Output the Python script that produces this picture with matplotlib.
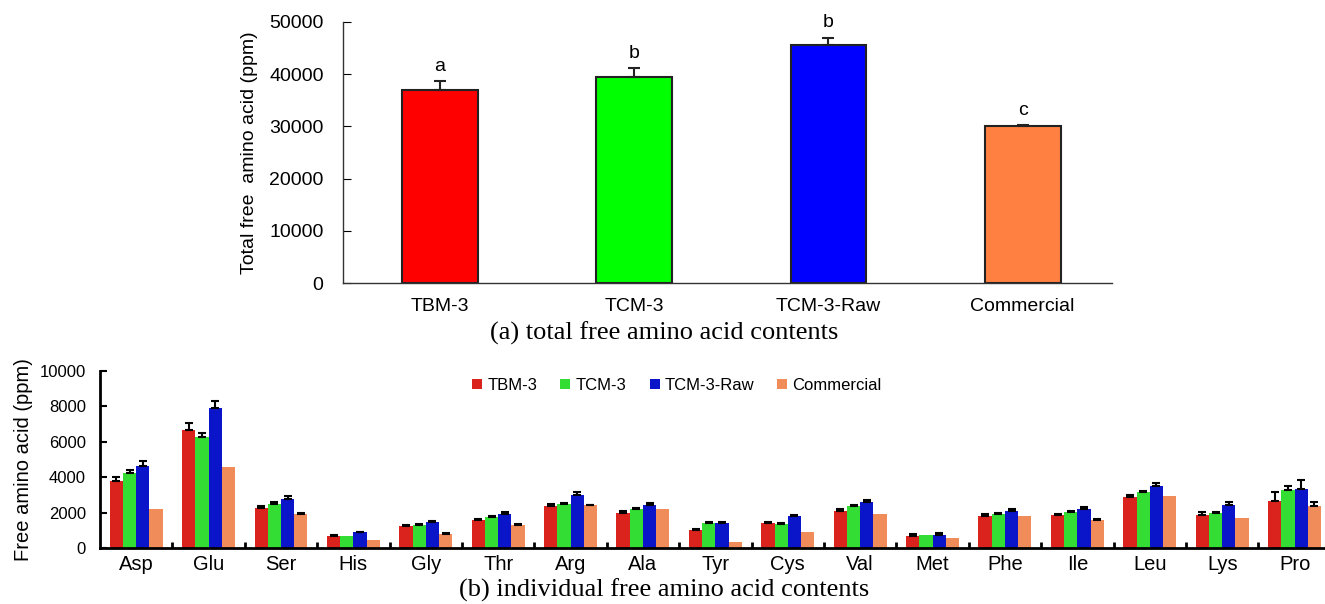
import numpy as np
import matplotlib
matplotlib.use("Agg")
import matplotlib.pyplot as plt

# ---- data: (a) total free amino acids ----
samples = ["TBM-3", "TCM-3", "TCM-3-Raw", "Commercial"]
total_mean = [37000, 39500, 45500, 30000]
total_err = [1700, 1600, 1500, 300]
total_letters = ["a", "b", "b", "c"]

# ---- data: (b) individual free amino acids ----
amino = ["Asp", "Glu", "Ser", "His", "Gly", "Thr", "Arg", "Ala", "Tyr",
         "Cys", "Val", "Met", "Phe", "Ile", "Leu", "Lys", "Pro"]
tbm3 = [3760, 6670, 2260, 660, 1220, 1600, 2350, 1970, 1030, 1410, 2100,
        680, 1800, 1840, 2880, 1880, 2670]
tbm3_err = [240, 380, 90, 90, 60, 50, 150, 100, 40, 70, 120, 130, 100,
            100, 130, 130, 490]
tcm3 = [4230, 6260, 2500, 660, 1280, 1750, 2500, 2200, 1410, 1370, 2350,
        710, 1940, 2030, 3140, 1970, 3250]
tcm3_err = [150, 260, 75, 0, 50, 50, 40, 60, 40, 40, 90, 0, 30, 60, 90,
            60, 270]
tcm3raw = [4640, 7890, 2780, 880, 1470, 1940, 3010, 2410, 1410, 1790, 2590,
           750, 2090, 2220, 3520, 2410, 3350]
tcm3raw_err = [250, 420, 130, 40, 70, 70, 170, 110, 70, 50, 140, 100, 130,
               90, 150, 170, 470]
commercial = [2200, 4550, 1940, 470, 810, 1280, 2410, 2180, 320, 920, 1900,
              560, 1790, 1560, 2910, 1690, 2390]
commercial_err = [0, 0, 30, 0, 40, 50, 30, 0, 0, 0, 0, 0, 0, 60, 0, 0, 190]

W, H = 1325, 604
plt.rcParams["font.family"] = ["Liberation Sans", "DejaVu Sans"]
fig = plt.figure(figsize=(W / 100, H / 100), dpi=100)


def px_axes(left, top, right, bottom):
    return fig.add_axes([left / W, 1 - bottom / H, (right - left) / W,
                         (bottom - top) / H])


# ---------- (a) ----------
ax1 = px_axes(343, 22, 1112, 283)
top_colors = ["#FF0000", "#00FF00", "#0000FF", "#FF8040"]
x1 = np.arange(len(samples))
ax1.bar(x1, total_mean, width=0.39, color=top_colors, edgecolor="#222222",
        linewidth=1.5, zorder=2)
ax1.errorbar(x1, total_mean, yerr=[np.zeros(len(x1)), total_err], fmt="none",
             ecolor="#222222", elinewidth=1.5, capsize=4, capthick=1.5,
             zorder=3)
for xi, m, e, lab in zip(x1, total_mean, total_err, total_letters):
    ax1.text(xi, m + e + 1200, lab, ha="center", va="bottom", fontsize=14)
ax1.set_xlim(-0.5, 3.46)
ax1.set_ylim(0, 50000)
ax1.set_yticks(range(0, 50001, 10000))
ax1.set_xticks(x1)
ax1.set_xticklabels(samples, fontsize=14)
ax1.tick_params(axis="y", direction="in", length=6, labelsize=14, pad=14)
ax1.tick_params(axis="x", length=0, pad=11)
for s in ["top", "right"]:
    ax1.spines[s].set_visible(False)
for s in ["left", "bottom"]:
    ax1.spines[s].set_linewidth(1.0)
    ax1.spines[s].set_color("#333333")
ax1.set_ylabel("Total free  amino acid (ppm)", fontsize=14, labelpad=8)

fig.text(664 / W, 1 - 333 / H, "(a) total free amino acid contents",
         ha="center", va="center", fontsize=19, family="Liberation Serif")

# ---------- (b) ----------
ax2 = px_axes(100, 371, 1325, 548)
bot_colors = ["#D9231C", "#33DD33", "#0A14C8", "#F08C5A"]
series = [tbm3, tcm3, tcm3raw, commercial]
errs = [tbm3_err, tcm3_err, tcm3raw_err, commercial_err]
x2 = np.arange(len(amino))
bw = 0.183
for i, (vals, er, col, lab) in enumerate(zip(series, errs, bot_colors,
                                             samples)):
    pos = x2 + (i - 1.5) * bw
    ax2.bar(pos, vals, width=bw, color=col, label=lab, zorder=2)
    er = np.array(er)
    mask = er > 0
    ax2.errorbar(pos[mask], np.array(vals)[mask],
                 yerr=[np.zeros(mask.sum()), er[mask]], fmt="none",
                 ecolor="black", elinewidth=1.5, capsize=3, capthick=1.5,
                 zorder=3)
ax2.set_xlim(-0.5, 16.42)
ax2.set_ylim(0, 10000)
ax2.set_yticks(range(0, 10001, 2000))
ax2.set_xticks(x2)
ax2.set_xticklabels(amino, fontsize=14.5)
ax2.set_xticks(np.arange(0.5, 16.5, 1), minor=True)
ax2.tick_params(axis="x", which="major", length=0, pad=5)
ax2.tick_params(axis="x", which="minor", direction="in", length=4, width=2)
ax2.tick_params(axis="y", direction="in", length=5, width=1.5,
                labelsize=12, pad=10)
for s in ["top", "right"]:
    ax2.spines[s].set_visible(False)
for s in ["left", "bottom"]:
    ax2.spines[s].set_linewidth(2.0)
ax2.set_ylabel("Free amino acid (ppm)", fontsize=14.5, labelpad=5)
ax2.legend(loc="upper center", bbox_to_anchor=(677 / W, 1 - 371 / H),
           bbox_transform=fig.transFigure, ncol=4, frameon=False,
           fontsize=12, handlelength=0.6, handleheight=0.6,
           handletextpad=0.3, columnspacing=1.4, borderaxespad=0)

fig.text(664 / W, 1 - 590 / H, "(b) individual free amino acid contents",
         ha="center", va="center", fontsize=19, family="Liberation Serif")

fig.savefig("out.png", dpi=100)
